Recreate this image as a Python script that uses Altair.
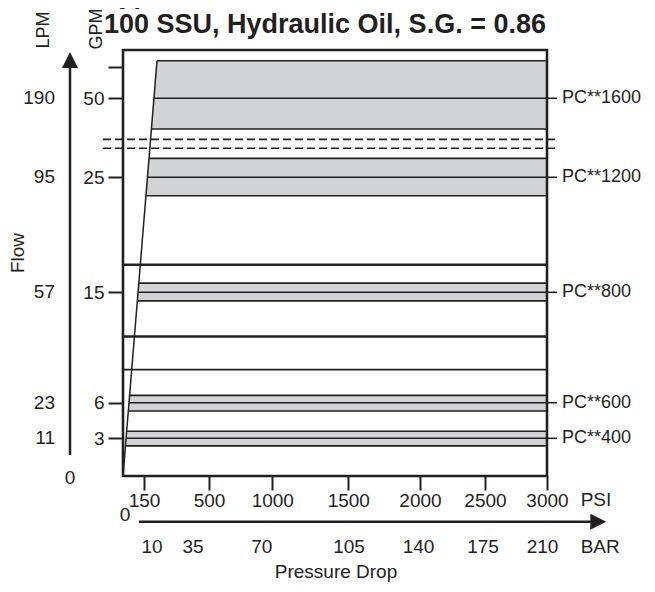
import altair as alt
import pandas as pd

INK = "#231f20"
GRAY = "#d1d3d4"
FONT = "Liberation Sans"

# ---------------- data ----------------
gpm_ticks = [3, 6, 15, 25, 50, 60]
lpm_labels = ["11", "23", "57", "95", "190"]
lpm_at_gpm = [3, 6, 15, 25, 50]

psi_ticks = [150, 500, 1000, 1500, 2000, 2500, 3000]
bar_ticks = [10, 35, 70, 105, 140, 175, 210]

models = ["PC**1600", "PC**1200", "PC**800", "PC**600", "PC**400"]
band_mid = [50, 25, 15, 6, 3]
band_lo = [40.3, 23.4, 14.3, 5.3, 2.4]
band_hi = [62.0, 31.0, 15.8, 6.6, 3.6]

heavy_lines = [17.4, 11.4]
light_lines = [8.7]
dashed_lines = [37.0, 34.2]

slant_psi = [0, 220]
slant_gpm = [0, 62]

psi_min, psi_max = 0, 3000
gpm_top = 66  # top of the plotted flow range

# ---------------- scales (schematic, piecewise) ----------------
W, H = 424, 426
X_DOMAIN = [0, 150, 500, 1000, 1500, 2000, 2500, 3000]
X_RANGE = [0, 21, 86, 149.3, 225.3, 297, 362, 424]
Y_DOMAIN = [0, 3, 6, 15, 25, 50, 60]
Y_RANGE = [426, 388.3, 352.7, 242.3, 127.3, 48.3, 17]
BAR_DOMAIN = [0] + bar_ticks
BAR_RANGE = [0, 29, 70, 138.7, 226, 295.5, 360, 419.5]

xscale = alt.Scale(domain=X_DOMAIN, range=X_RANGE, nice=False, zero=False)
yscale = alt.Scale(domain=Y_DOMAIN, range=Y_RANGE, nice=False, zero=False)

xaxis = alt.Axis(values=psi_ticks, format="d", tickSize=14, tickWidth=2, tickColor=INK,
                 labelFontSize=19, labelFont=FONT, labelColor=INK, labelPadding=1,
                 labelFlush=False, labelOverlap=False, domain=False, grid=False, title=None)
yaxis = alt.Axis(values=gpm_ticks, format="d",
                 labelExpr="datum.value == 60 ? '' : datum.label",
                 tickSize=15, tickWidth=2, tickColor=INK,
                 labelFontSize=19, labelFont=FONT, labelColor=INK, labelPadding=4,
                 labelFlush=False, labelOverlap=False, domain=False, grid=False, title=None)


def X(f):
    return alt.X(f, type="quantitative", scale=xscale, axis=xaxis)


def Y(f):
    return alt.Y(f, type="quantitative", scale=yscale, axis=yaxis)


band_df = pd.DataFrame({"model": models, "mid": band_mid, "lo": band_lo,
                        "hi": band_hi, "p0": psi_min, "p1": psi_max})
edge_df = pd.DataFrame({"g": band_lo + band_hi + band_mid, "p0": psi_min, "p1": psi_max})
heavy_df = pd.DataFrame({"g": heavy_lines, "p0": psi_min, "p1": psi_max})
light_df = pd.DataFrame({"g": light_lines, "p0": psi_min, "p1": psi_max})
dash_df = pd.DataFrame({"g": dashed_lines})
slant_df = pd.DataFrame({"psi": slant_psi, "gpm": slant_gpm})
# white mask left of the pressure-drop line (slant), up to the top of the frame
tri_df = pd.DataFrame({"gpm": slant_gpm + [gpm_top],
                       "a": [psi_min] * 3,
                       "b": slant_psi + [slant_psi[-1]]})
lpm_df = pd.DataFrame({"gpm": lpm_at_gpm, "lpm": lpm_labels})
bar_df = pd.DataFrame({"bar": bar_ticks, "label": [str(b) for b in bar_ticks]})
one = pd.DataFrame({"k": [0]})

bands = alt.Chart(band_df).mark_rect(color=GRAY).encode(x=X("p0"), x2="p1", y=Y("lo"), y2="hi")
edges = alt.Chart(edge_df).mark_rule(color=INK, strokeWidth=1.6).encode(x=X("p0"), x2="p1", y=Y("g"))
white_tri = alt.Chart(tri_df).mark_area(orient="horizontal", color="white", opacity=1).encode(
    y=Y("gpm"), x=X("a"), x2="b")
heavy = alt.Chart(heavy_df).mark_rule(color=INK, strokeWidth=2.4).encode(x=X("p0"), x2="p1", y=Y("g"))
light = alt.Chart(light_df).mark_rule(color=INK, strokeWidth=1.6).encode(x=X("p0"), x2="p1", y=Y("g"))
dashed = alt.Chart(dash_df).mark_rule(color=INK, strokeWidth=1.6, strokeDash=[8, 4]).encode(
    x=alt.value(-20), x2=alt.value(W + 10), y=Y("g"))
slant = alt.Chart(slant_df).mark_line(color=INK, strokeWidth=1.5).encode(
    x=X("psi"), y=Y("gpm"), order="gpm")
frame = alt.Chart(one).mark_rect(fillOpacity=0, stroke=INK, strokeWidth=2.6).encode(
    x=alt.value(0), x2=alt.value(W), y=alt.value(0), y2=alt.value(H))

right_ticks = alt.Chart(band_df).mark_rule(color=INK, strokeWidth=1.6).encode(
    x=alt.value(W), x2=alt.value(W + 10), y=Y("mid"))
right_text = alt.Chart(band_df).mark_text(align="left", baseline="middle", font=FONT,
                                          fontSize=18, color=INK).encode(
    x=alt.value(W + 15), y=Y("mid"), text="model")
lpm_text = alt.Chart(lpm_df).mark_text(align="right", baseline="middle", font=FONT,
                                       fontSize=19, color=INK).encode(
    x=alt.value(-68), y=Y("gpm"), text="lpm")


def label(txt, x, y, align="center", angle=0, size=19, weight="normal", baseline="middle"):
    return alt.Chart(one).mark_text(text=txt, align=align, baseline=baseline, angle=angle,
                                    font=FONT, fontSize=size, fontWeight=weight,
                                    color=INK).encode(x=alt.value(x), y=alt.value(y))


texts = [
    label("Typical For All Sizes", -19, -47, align="left", size=27, weight="bold",
          baseline="alphabetic"),
    label("100 SSU, Hydraulic Oil, S.G. = 0.86", -19, -17.5, align="left", size=27,
          weight="bold", baseline="alphabetic"),
    label("LPM", -79.5, -20, angle=270, size=18),
    label("GPM", -26, -21, angle=270, size=18),
    label("Flow", -105.5, 203, angle=270),
    label("0", -53, 428),
    label("0", 2, 465),
    label("PSI", 457.7, 450, align="left"),
    label("BAR", 457.7, 497, align="left"),
    label("Pressure Drop", 213, 522),
]

v_arrow = alt.Chart(one).mark_rule(color=INK, strokeWidth=2.5).encode(
    x=alt.value(-53), y=alt.value(17), y2=alt.value(405))
v_head = alt.Chart(one).mark_point(shape="M-1,1L0,-1L1,1Z", filled=True, size=256,
                                   color=INK, opacity=1).encode(x=alt.value(-53), y=alt.value(10))
h_arrow = alt.Chart(one).mark_rule(color=INK, strokeWidth=2.5).encode(
    x=alt.value(16), x2=alt.value(468), y=alt.value(471.7))
h_head = alt.Chart(one).mark_point(shape="M-1,-1L1,0L-1,1Z", filled=True, size=256,
                                   color=INK, opacity=1).encode(x=alt.value(475.3), y=alt.value(471.7))

main = alt.layer(bands, edges, white_tri, heavy, light, dashed, slant, frame,
                 right_ticks, right_text, lpm_text, v_arrow, v_head, h_arrow, h_head, *texts)

bar_layer = alt.Chart(bar_df).mark_text(align="center", baseline="middle", font=FONT,
                                        fontSize=19, color=INK).encode(
    x=alt.X("bar", type="quantitative",
            scale=alt.Scale(domain=BAR_DOMAIN, range=BAR_RANGE, nice=False, zero=False),
            axis=None),
    y=alt.value(497), text="label")

chart = alt.layer(main, bar_layer).resolve_scale(x="independent").properties(
    width=W, height=H,
    padding={"left": 115, "top": 42, "right": 100, "bottom": 108},
    autosize=alt.AutoSizeParams(type="none"),
    background="white",
).configure_view(stroke=None)

chart.save("out.html", embed_options={"renderer": "svg", "actions": False})
